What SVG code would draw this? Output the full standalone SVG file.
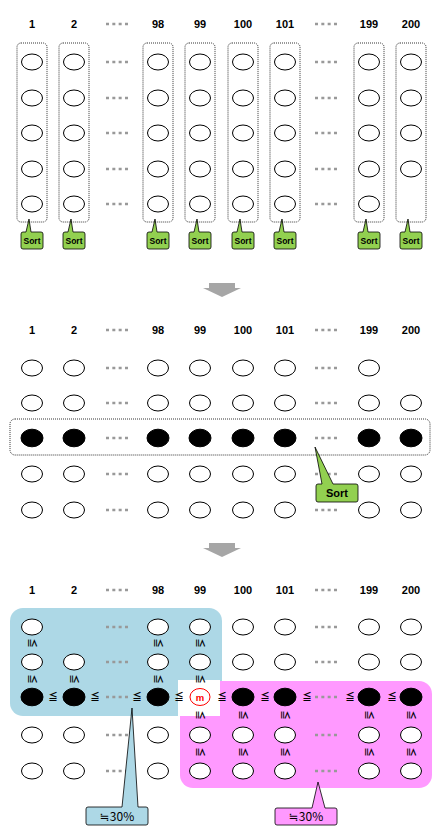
<svg xmlns="http://www.w3.org/2000/svg" xmlns:xlink="http://www.w3.org/1999/xlink" width="445" height="838" viewBox="0 0 445 838">
<style>
.e{fill:#fff;stroke:#000;stroke-width:1}
.b{fill:#000;stroke:#000;stroke-width:1}
.dots{stroke:#999;stroke-width:2.6;stroke-dasharray:3 3.33;fill:none}
.lbl{font-family:"Liberation Sans",Arial,sans-serif;font-weight:bold;font-size:11px;text-anchor:middle;fill:#000}
.box{fill:none;stroke:#000;stroke-width:0.8;stroke-dasharray:1 1}
.sort{fill:#92D050;stroke:#000;stroke-width:0.8}
.st{font-family:"Liberation Sans",Arial,sans-serif;font-weight:bold;font-size:8.5px;text-anchor:middle;fill:#000}
.le{font-family:"Noto Sans CJK JP","DejaVu Sans",sans-serif;font-weight:bold;font-size:9.5px;text-anchor:middle;fill:#000}
.arrow{fill:#A6A6A6}
.pct{font-family:"Noto Sans CJK JP","DejaVu Sans",sans-serif;font-size:12px;text-anchor:middle;fill:#000}
</style>
<defs>
<path id="sortc" d="M-9,232 L-6,232 L-3,219 L-1,232 L9,232 Q11,232 11,234 L11,247 Q11,249 9,249 L-9,249 Q-11,249 -11,247 L-11,234 Q-11,232 -9,232 Z"/>
<ellipse id="oe" cx="0" cy="0" rx="10.5" ry="8"/>
<ellipse id="be" cx="0" cy="0" rx="11" ry="8.8"/>
<text id="vle" x="0" y="3" transform="rotate(90)">≦</text>
</defs>

<!-- ===== TOP SECTION ===== -->
<g id="top-labels" class="lbl">
<text x="32" y="28">1</text><text x="74" y="28">2</text><text x="158" y="28">98</text><text x="200" y="28">99</text>
<text x="243" y="28">100</text><text x="285" y="28">101</text><text x="369" y="28">199</text><text x="411" y="28">200</text>
</g>
<g id="top-dots" class="dots">
<line x1="106" y1="24" x2="128" y2="24"/><line x1="315" y1="24" x2="337" y2="24"/>
<line x1="106" y1="62" x2="128" y2="62"/><line x1="315" y1="62" x2="337" y2="62"/>
<line x1="106" y1="98" x2="128" y2="98"/><line x1="315" y1="98" x2="337" y2="98"/>
<line x1="106" y1="133" x2="128" y2="133"/><line x1="315" y1="133" x2="337" y2="133"/>
<line x1="106" y1="169" x2="128" y2="169"/><line x1="315" y1="169" x2="337" y2="169"/>
<line x1="106" y1="204" x2="128" y2="204"/><line x1="315" y1="204" x2="337" y2="204"/>
</g>

<g id="top-col-1" transform="translate(32,0)">
<rect class="box" x="-15" y="43" width="30" height="179" rx="4"/>
<use href="#oe" class="e" y="62"/><use href="#oe" class="e" y="98"/><use href="#oe" class="e" y="133"/><use href="#oe" class="e" y="169"/><use href="#oe" class="e" y="204"/>
<use href="#sortc" class="sort"/><text class="st" x="0" y="244">Sort</text>
</g>
<g id="top-col-2" transform="translate(74,0)">
<rect class="box" x="-15" y="43" width="30" height="179" rx="4"/>
<use href="#oe" class="e" y="62"/><use href="#oe" class="e" y="98"/><use href="#oe" class="e" y="133"/><use href="#oe" class="e" y="169"/><use href="#oe" class="e" y="204"/>
<use href="#sortc" class="sort"/><text class="st" x="0" y="244">Sort</text>
</g>
<g id="top-col-98" transform="translate(158,0)">
<rect class="box" x="-15" y="43" width="30" height="179" rx="4"/>
<use href="#oe" class="e" y="62"/><use href="#oe" class="e" y="98"/><use href="#oe" class="e" y="133"/><use href="#oe" class="e" y="169"/><use href="#oe" class="e" y="204"/>
<use href="#sortc" class="sort"/><text class="st" x="0" y="244">Sort</text>
</g>
<g id="top-col-99" transform="translate(200,0)">
<rect class="box" x="-15" y="43" width="30" height="179" rx="4"/>
<use href="#oe" class="e" y="62"/><use href="#oe" class="e" y="98"/><use href="#oe" class="e" y="133"/><use href="#oe" class="e" y="169"/><use href="#oe" class="e" y="204"/>
<use href="#sortc" class="sort"/><text class="st" x="0" y="244">Sort</text>
</g>
<g id="top-col-100" transform="translate(243,0)">
<rect class="box" x="-15" y="43" width="30" height="179" rx="4"/>
<use href="#oe" class="e" y="62"/><use href="#oe" class="e" y="98"/><use href="#oe" class="e" y="133"/><use href="#oe" class="e" y="169"/><use href="#oe" class="e" y="204"/>
<use href="#sortc" class="sort"/><text class="st" x="0" y="244">Sort</text>
</g>
<g id="top-col-101" transform="translate(285,0)">
<rect class="box" x="-15" y="43" width="30" height="179" rx="4"/>
<use href="#oe" class="e" y="62"/><use href="#oe" class="e" y="98"/><use href="#oe" class="e" y="133"/><use href="#oe" class="e" y="169"/><use href="#oe" class="e" y="204"/>
<use href="#sortc" class="sort"/><text class="st" x="0" y="244">Sort</text>
</g>
<g id="top-col-199" transform="translate(369,0)">
<rect class="box" x="-15" y="43" width="30" height="179" rx="4"/>
<use href="#oe" class="e" y="62"/><use href="#oe" class="e" y="98"/><use href="#oe" class="e" y="133"/><use href="#oe" class="e" y="169"/><use href="#oe" class="e" y="204"/>
<use href="#sortc" class="sort"/><text class="st" x="0" y="244">Sort</text>
</g>
<g id="top-col-200" transform="translate(411,0)">
<rect class="box" x="-15" y="43" width="30" height="179" rx="4"/>
<use href="#oe" class="e" y="62"/><use href="#oe" class="e" y="98"/><use href="#oe" class="e" y="133"/><use href="#oe" class="e" y="169"/>
<use href="#sortc" class="sort"/><text class="st" x="0" y="244">Sort</text>
</g>

<!-- arrow 1 -->
<g id="arrow-1" class="arrow"><path d="M209,283 H235 V288 H241 L222,297 L203,288 H209 Z"/></g>

<!-- ===== MIDDLE SECTION ===== -->
<g id="mid-labels" class="lbl">
<text x="32" y="334">1</text><text x="74" y="334">2</text><text x="158" y="334">98</text><text x="200" y="334">99</text>
<text x="243" y="334">100</text><text x="285" y="334">101</text><text x="369" y="334">199</text><text x="411" y="334">200</text>
</g>
<g id="mid-dots" class="dots">
<line x1="106" y1="330" x2="128" y2="330"/><line x1="315" y1="330" x2="337" y2="330"/>
<line x1="106" y1="368" x2="128" y2="368"/><line x1="315" y1="368" x2="337" y2="368"/>
<line x1="106" y1="403" x2="128" y2="403"/><line x1="315" y1="403" x2="337" y2="403"/>
<line x1="106" y1="438" x2="128" y2="438"/><line x1="315" y1="438" x2="337" y2="438"/>
<line x1="106" y1="474" x2="128" y2="474"/><line x1="315" y1="474" x2="337" y2="474"/>
<line x1="106" y1="510" x2="128" y2="510"/><line x1="315" y1="510" x2="337" y2="510"/>
</g>
<g id="mid-row-box"><rect class="box" x="10" y="419" width="420" height="36" rx="5"/></g>
<g id="mid-col-1" transform="translate(32,0)"><use href="#oe" class="e" y="368"/><use href="#oe" class="e" y="403"/><use href="#be" class="b" y="438"/><use href="#oe" class="e" y="474"/><use href="#oe" class="e" y="510"/></g>
<g id="mid-col-2" transform="translate(74,0)"><use href="#oe" class="e" y="368"/><use href="#oe" class="e" y="403"/><use href="#be" class="b" y="438"/><use href="#oe" class="e" y="474"/><use href="#oe" class="e" y="510"/></g>
<g id="mid-col-98" transform="translate(158,0)"><use href="#oe" class="e" y="368"/><use href="#oe" class="e" y="403"/><use href="#be" class="b" y="438"/><use href="#oe" class="e" y="474"/><use href="#oe" class="e" y="510"/></g>
<g id="mid-col-99" transform="translate(200,0)"><use href="#oe" class="e" y="368"/><use href="#oe" class="e" y="403"/><use href="#be" class="b" y="438"/><use href="#oe" class="e" y="474"/><use href="#oe" class="e" y="510"/></g>
<g id="mid-col-100" transform="translate(243,0)"><use href="#oe" class="e" y="368"/><use href="#oe" class="e" y="403"/><use href="#be" class="b" y="438"/><use href="#oe" class="e" y="474"/><use href="#oe" class="e" y="510"/></g>
<g id="mid-col-101" transform="translate(285,0)"><use href="#oe" class="e" y="368"/><use href="#oe" class="e" y="403"/><use href="#be" class="b" y="438"/><use href="#oe" class="e" y="474"/><use href="#oe" class="e" y="510"/></g>
<g id="mid-col-199" transform="translate(369,0)"><use href="#oe" class="e" y="368"/><use href="#oe" class="e" y="403"/><use href="#be" class="b" y="438"/><use href="#oe" class="e" y="474"/><use href="#oe" class="e" y="510"/></g>
<g id="mid-col-200" transform="translate(411,0)"><use href="#oe" class="e" y="403"/><use href="#be" class="b" y="438"/><use href="#oe" class="e" y="474"/><use href="#oe" class="e" y="510"/></g>
<g id="mid-sort">
<path class="sort" d="M318,484 L322,484 L315,447 L333,484 L356,484 Q358,484 358,486 L358,500 Q358,502 356,502 L318,502 Q316,502 316,500 L316,486 Q316,484 318,484 Z"/>
<text class="st" x="337" y="497" style="font-size:11px">Sort</text>
</g>

<!-- arrow 2 -->
<g id="arrow-2" class="arrow"><path d="M209,543 H235 V548 H241 L222,557 L203,548 H209 Z"/></g>

<!-- ===== BOTTOM SECTION ===== -->
<g id="regions">
<rect id="region-low" x="10" y="608" width="212" height="108" rx="13" fill="#ADD8E6"/>
<rect id="region-high" x="180" y="681" width="252" height="107" rx="13" fill="#FF99FF"/>
<rect id="median-cell" x="178" y="680" width="42" height="36" fill="#fff"/>
</g>
<g id="bot-labels" class="lbl">
<text x="32" y="594">1</text><text x="74" y="594">2</text><text x="158" y="594">98</text><text x="200" y="594">99</text>
<text x="243" y="594">100</text><text x="285" y="594">101</text><text x="369" y="594">199</text><text x="411" y="594">200</text>
</g>
<g id="bot-dots" class="dots">
<line x1="106" y1="590" x2="128" y2="590"/><line x1="315" y1="590" x2="337" y2="590"/>
<line x1="106" y1="627" x2="128" y2="627"/><line x1="315" y1="627" x2="337" y2="627"/>
<line x1="106" y1="662" x2="128" y2="662"/><line x1="315" y1="662" x2="337" y2="662"/>
<line x1="106" y1="697" x2="128" y2="697"/><line x1="315" y1="697" x2="337" y2="697"/>
<line x1="106" y1="735" x2="128" y2="735"/><line x1="315" y1="735" x2="337" y2="735"/>
<line x1="106" y1="771" x2="128" y2="771"/><line x1="315" y1="771" x2="337" y2="771"/>
</g>
<g id="bot-col-1" transform="translate(32,0)"><use href="#oe" class="e" y="627"/><use href="#oe" class="e" y="662"/><use href="#be" class="b" y="697"/><use href="#oe" class="e" y="735"/><use href="#oe" class="e" y="771"/></g>
<g id="bot-col-2" transform="translate(74,0)"><use href="#oe" class="e" y="662"/><use href="#be" class="b" y="697"/><use href="#oe" class="e" y="735"/><use href="#oe" class="e" y="771"/></g>
<g id="bot-col-98" transform="translate(158,0)"><use href="#oe" class="e" y="627"/><use href="#oe" class="e" y="662"/><use href="#be" class="b" y="697"/><use href="#oe" class="e" y="735"/><use href="#oe" class="e" y="771"/></g>
<g id="bot-col-99" transform="translate(200,0)"><use href="#oe" class="e" y="627"/><use href="#oe" class="e" y="662"/>
<ellipse cx="0" cy="697" rx="10" ry="8.5" fill="#fff" stroke="#FF0000" stroke-width="1"/>
<text x="0" y="700.5" font-family="Liberation Sans,Arial,sans-serif" font-size="9.5" font-weight="bold" fill="#FF0000" text-anchor="middle">m</text>
<use href="#oe" class="e" y="735"/><use href="#oe" class="e" y="771"/></g>
<g id="bot-col-100" transform="translate(243,0)"><use href="#oe" class="e" y="627"/><use href="#oe" class="e" y="662"/><use href="#be" class="b" y="697"/><use href="#oe" class="e" y="735"/><use href="#oe" class="e" y="771"/></g>
<g id="bot-col-101" transform="translate(285,0)"><use href="#oe" class="e" y="627"/><use href="#oe" class="e" y="662"/><use href="#be" class="b" y="697"/><use href="#oe" class="e" y="735"/><use href="#oe" class="e" y="771"/></g>
<g id="bot-col-199" transform="translate(369,0)"><use href="#oe" class="e" y="627"/><use href="#oe" class="e" y="662"/><use href="#be" class="b" y="697"/><use href="#oe" class="e" y="735"/><use href="#oe" class="e" y="771"/></g>
<g id="bot-col-200" transform="translate(411,0)"><use href="#oe" class="e" y="627"/><use href="#oe" class="e" y="662"/><use href="#be" class="b" y="697"/><use href="#oe" class="e" y="735"/><use href="#oe" class="e" y="771"/></g>

<g id="relations" class="le">
<text x="53" y="700">≦</text><text x="95" y="700">≦</text><text x="137" y="700">≦</text><text x="179" y="700">≦</text>
<text x="222" y="700">≦</text><text x="265" y="700">≦</text><text x="307" y="700">≦</text><text x="350" y="700">≦</text><text x="392" y="700">≦</text>
<g transform="translate(32,643)"><use href="#vle"/></g>
<g transform="translate(158,643)"><use href="#vle"/></g>
<g transform="translate(200,643)"><use href="#vle"/></g>
<g transform="translate(32,679)"><use href="#vle"/></g>
<g transform="translate(74,679)"><use href="#vle"/></g>
<g transform="translate(158,679)"><use href="#vle"/></g>
<g transform="translate(200,679)"><use href="#vle"/></g>
<g transform="translate(200,715)"><use href="#vle"/></g>
<g transform="translate(243,715)"><use href="#vle"/></g>
<g transform="translate(285,715)"><use href="#vle"/></g>
<g transform="translate(369,715)"><use href="#vle"/></g>
<g transform="translate(411,715)"><use href="#vle"/></g>
<g transform="translate(200,752)"><use href="#vle"/></g>
<g transform="translate(243,752)"><use href="#vle"/></g>
<g transform="translate(285,752)"><use href="#vle"/></g>
<g transform="translate(369,752)"><use href="#vle"/></g>
<g transform="translate(411,752)"><use href="#vle"/></g>
</g>

<g id="callout-low">
<path d="M88,807 L122,807 L132,708 L138,807 L146,807 Q148,807 148,809 L148,823 Q148,825 146,825 L88,825 Q86,825 86,823 L86,809 Q86,807 88,807 Z" fill="#ADD8E6" stroke="#000" stroke-width="0.8"/>
<text class="pct" x="117" y="820.5">≒30%</text>
</g>
<g id="callout-high">
<path d="M277,808 L312,808 L318,782 L325,808 L335,808 Q337,808 337,810 L337,823 Q337,825 335,825 L277,825 Q275,825 275,823 L275,810 Q275,808 277,808 Z" fill="#FF99FF" stroke="#000" stroke-width="0.8"/>
<text class="pct" x="306" y="821">≒30%</text>
</g>
</svg>
